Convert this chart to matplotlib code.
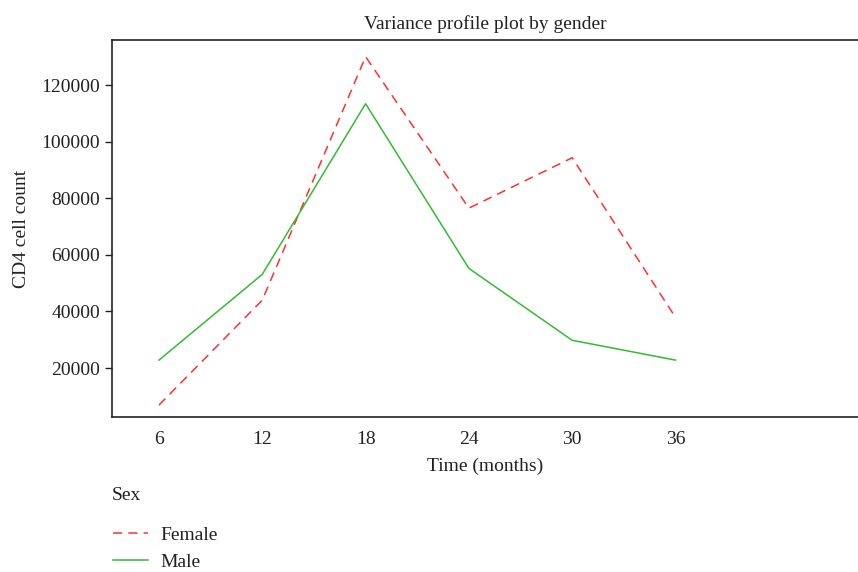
import matplotlib
matplotlib.use('Agg')
import matplotlib.pyplot as plt

# data
months = [6, 12, 18, 24, 30, 36]
female = [6900, 44000, 130000, 76500, 94300, 37900]
male = [22800, 53100, 113400, 55200, 29800, 22800]
yticks = [20000, 40000, 60000, 80000, 100000, 120000]

plt.rcParams['font.family'] = ['Liberation Serif', 'DejaVu Serif']
txt = '#222222'

fig = plt.figure(figsize=(8.58, 5.72), dpi=100)
ax = fig.add_axes([0.1305, 0.271, 0.8695, 0.659])

ax.plot(months, female, color='#ff3030', lw=1.1, dashes=(6, 4), label='Female')
ax.plot(months, male, color='#33bb33', lw=1.1, label='Male')

ax.set_xlim(3.27, 46.6)
ax.set_ylim(2700, 135900)
ax.set_xticks(months)
ax.set_yticks(yticks)
ax.tick_params(axis='x', length=0, pad=10, labelsize=14, colors=txt)
ax.tick_params(axis='y', length=5, width=1, labelsize=14, colors=txt)
ax.spines['right'].set_visible(False)
for s in ax.spines.values():
    s.set_linewidth(1.2)
    s.set_color(txt)

ax.set_xlabel('Time (months)', fontsize=14, color=txt, labelpad=7)
ax.set_ylabel('CD4 cell count', fontsize=14, color=txt, labelpad=8)
ax.set_title('Variance profile plot by gender', fontsize=14, color=txt, pad=8)

fig.text(112 / 858, 1 - 495 / 572, 'Sex', fontsize=14, color=txt, va='center', ha='left')
leg = fig.legend(loc='upper left', bbox_to_anchor=(0.123, 0.094), frameon=False,
                 fontsize=14, handlelength=1.8, labelspacing=0.5, handletextpad=0.6,
                 borderaxespad=0)
for t in leg.get_texts():
    t.set_color(txt)

fig.savefig('out.png', dpi=100)
